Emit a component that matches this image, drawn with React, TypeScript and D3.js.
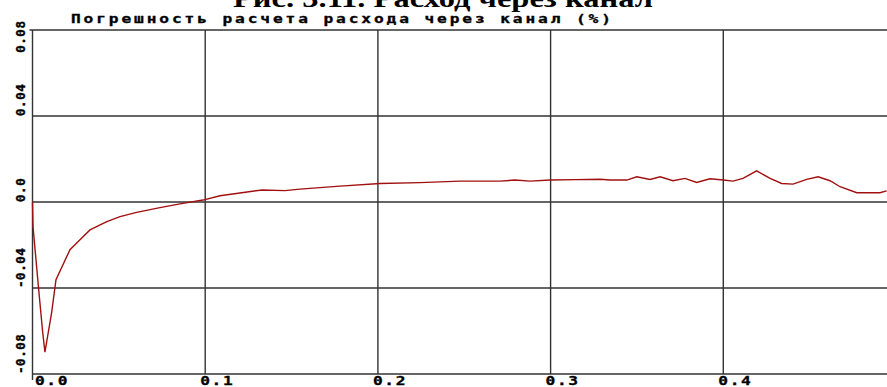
import React from "react";
import * as d3 from "d3";

const W = 887;
const H = 387;

const chartTitle = "Рис. 3.11. Расход через канал";
const subTitle = "Погрешность расчета расхода через канал (%)";

const xTicks = [0.0, 0.1, 0.2, 0.3, 0.4];
const xTickLabels = ["0.0", "0.1", "0.2", "0.3", "0.4"];
const yTicks = [0.08, 0.04, 0.0, -0.04, -0.08];
const yTickLabels = ["0.08", "0.04", "0.0", "-0.04", "-0.08"];

const xs = [
  0.0, 0.0003, 0.0034, 0.0059, 0.0072, 0.0111, 0.0136, 0.0217, 0.0275, 0.0333,
  0.043, 0.0507, 0.0603, 0.0738, 0.0854, 0.0987, 0.1086, 0.1201, 0.1329, 0.1462,
  0.1549, 0.1781, 0.2012, 0.2244, 0.2476, 0.2707, 0.2794, 0.2881, 0.2997, 0.3142,
  0.3287, 0.3344, 0.3441, 0.3499, 0.3576, 0.3634, 0.3709, 0.3778, 0.3846, 0.3923,
  0.4, 0.4056, 0.4114, 0.4193, 0.4271, 0.4338, 0.4404, 0.4483, 0.4549, 0.4618,
  0.4676, 0.4773, 0.4907, 0.4946,
];
const errs = [
  0.0, -0.0114, -0.0392, -0.0606, -0.0698, -0.0513, -0.0361, -0.0222, -0.0176, -0.013,
  -0.0091, -0.0068, -0.0048, -0.0026, -0.0009, 0.0009, 0.0029, 0.0042, 0.0056, 0.0053,
  0.006, 0.0074, 0.0086, 0.009, 0.0097, 0.0097, 0.0102, 0.0097, 0.0102, 0.0104,
  0.0106, 0.0102, 0.0102, 0.0117, 0.0105, 0.0117, 0.0099, 0.011, 0.0091, 0.0108,
  0.0102, 0.0097, 0.011, 0.0145, 0.011, 0.0086, 0.0083, 0.0105, 0.0117, 0.0099,
  0.0071, 0.0043, 0.0043, 0.0052,
];

export default function App() {
  const x = d3.scaleLinear().domain([0, 0.5]).range([32.5, 896]);
  const y = d3.scaleLinear().domain([-0.08, 0.08]).range([374, 30]);
  const line = d3
    .line<number>()
    .x((_, i) => x(xs[i]))
    .y((d) => y(d));
  const gridColor = "#333";
  const mono = "'DejaVu Sans Mono', monospace";
  const sx = 1.35;
  return (
    <svg
      width={W}
      height={H}
      style={{ position: "absolute", left: 0, top: 0, background: "#fff" }}
    >
      <rect x={0} y={0} width={W} height={H} fill="#fff" />
      <text
        x={443}
        y={7}
        textAnchor="middle"
        fontFamily="'Liberation Serif', serif"
        fontWeight="bold"
        fontSize={25}
        textLength={420}
        lengthAdjust="spacingAndGlyphs"
        fill="#000"
      >
        {chartTitle}
      </text>
      <g transform={`translate(71,23) scale(${sx},1)`}>
        <text
          x={0}
          y={0}
          fontFamily={mono}
          fontWeight="bold"
          fontSize={12}
          textLength={540 / sx}
          lengthAdjust="spacing"
          fill="#000"
          stroke="#000"
          strokeWidth={0.3}
        >
          {subTitle}
        </text>
      </g>
      {/* horizontal grid */}
      {yTicks.map((t) => (
        <line
          key={"h" + t}
          x1={x(0) - (t === 0.08 ? 3 : 0)}
          x2={W}
          y1={y(t)}
          y2={y(t)}
          stroke={gridColor}
          strokeWidth={1.4}
        />
      ))}
      {/* vertical grid */}
      {xTicks.map((t) => (
        <line
          key={"v" + t}
          x1={x(t)}
          x2={x(t)}
          y1={y(0.08)}
          y2={y(-0.08) + (t === 0 ? 6 : 0)}
          stroke={gridColor}
          strokeWidth={1.4}
        />
      ))}
      <path
        d={line(errs) || ""}
        fill="none"
        stroke="#a01010"
        strokeWidth={1.4}
      />
      {/* x tick labels */}
      {xTicks.map((t, i) => (
        <g
          key={"xl" + t}
          transform={`translate(${Math.max(x(t) - 5, 35)},385) scale(${sx},1)`}
        >
          <text
            x={0}
            y={0}
            fontFamily={mono}
            fontWeight="bold"
            fontSize={12}
            letterSpacing={1.2}
            fill="#000"
            stroke="#000"
            strokeWidth={0.3}
          >
            {xTickLabels[i]}
          </text>
        </g>
      ))}
      {/* y tick labels (rotated) */}
      {yTicks.map((t, i) => {
        const label = yTickLabels[i];
        const len = label.length * 8.2;
        let start = y(t);
        if (start - len < 20) start = 20 + len;
        if (start > 383) start = 383;
        return (
          <g
            key={"yl" + t}
            transform={`translate(25,${start}) rotate(-90) scale(1.15,1.15)`}
          >
            <text
              x={0}
              y={0}
              fontFamily={mono}
              fontWeight="bold"
              fontSize={11}
              letterSpacing={0.4}
              fill="#000"
              stroke="#000"
              strokeWidth={0.3}
            >
              {label}
            </text>
          </g>
        );
      })}
    </svg>
  );
}
